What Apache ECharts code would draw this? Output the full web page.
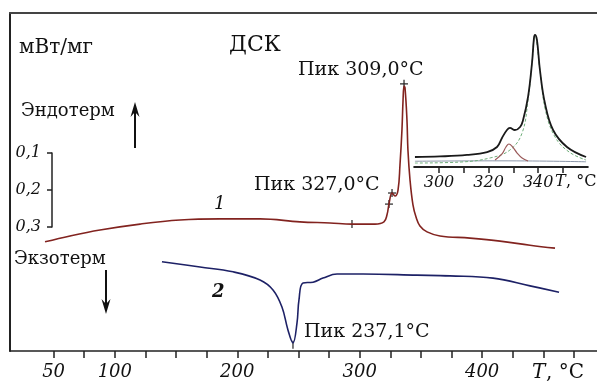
<!DOCTYPE html>
<html>
<head>
<meta charset="utf-8">
<script src="https://cdn.jsdelivr.net/npm/echarts@6/dist/echarts.min.js"></script>
<style>
  html, body { margin: 0; padding: 0; background: #fff; }
  #chart { width: 597px; height: 385px; }
</style>
</head>
<body>
<div id="chart"></div>
<script>
// curve 1 (heating, endotherm peaks) - temperature, mW/mg
const curve1T = [43.0, 63.4, 87.9, 120.6, 153.2, 185.9, 218.6, 251.2, 275.7, 293.7, 312.5, 319.8, 322.3, 323.9,
  326.4, 328.8, 331.3, 332.9, 334.5, 335.4, 336.2, 337.0, 338.6, 339.4, 341.1, 343.5, 346.0, 349.2, 355.0,
  365.6, 390.1, 414.6, 439.1, 459.5];
const curve1V = [0.295, 0.311, 0.327, 0.343, 0.354, 0.357, 0.357, 0.349, 0.346, 0.343, 0.343, 0.349, 0.368, 0.397,
  0.427, 0.419, 0.435, 0.503, 0.597, 0.678, 0.716, 0.711, 0.624, 0.543, 0.462, 0.395, 0.362, 0.338, 0.322,
  0.311, 0.305, 0.297, 0.286, 0.278];

// curve 2 (cooling, exotherm peak)
const curve2T = [138.5, 169.6, 196.5, 218.6, 229.2, 236.5, 241.4, 245.5, 248.8, 250.4, 253.7, 261.9, 270.0,
  281.5, 302.7, 346.8, 373.7, 408.9, 439.1, 462.8];
const curve2V = [0.241, 0.227, 0.214, 0.192, 0.165, 0.119, 0.057, 0.022, 0.076, 0.138, 0.184, 0.186, 0.197,
  0.208, 0.208, 0.205, 0.203, 0.197, 0.176, 0.159];

// tick marks put on the curves by the instrument software
const crossT = [323.9, 326.4, 336.2];
const crossV = [0.397, 0.427, 0.722];
const onsetT = [293.7, 245.5];
const onsetV = [0.343, 0.017];

// inset: deconvolution of the double peak
const insetT = [290.3, 300.4, 311.3, 319.4, 323.4, 325.4, 327.4, 328.6, 330.6, 332.7, 333.9, 335.9, 337.5,
  338.3, 338.7, 339.5, 340.7, 342.7, 346.0, 351.6, 359.3];
const insetTotal = [0.073, 0.077, 0.088, 0.109, 0.146, 0.212, 0.270, 0.285, 0.270, 0.292, 0.343, 0.511, 0.759,
  0.942, 0.964, 0.927, 0.708, 0.467, 0.270, 0.146, 0.073];
const smallPeakT = [322.6, 325.4, 327.0, 328.2, 329.4, 331.5, 333.5, 335.9];
const smallPeakV = [0.051, 0.095, 0.146, 0.168, 0.153, 0.102, 0.066, 0.044];
const bigPeakT = [290.3, 308.5, 320.6, 328.6, 333.5, 335.9, 337.5, 338.7, 340.7, 342.9, 346.8, 352.5, 359.3];
const bigPeakV = [0.029, 0.036, 0.066, 0.124, 0.248, 0.489, 0.759, 0.964, 0.708, 0.416, 0.219, 0.109, 0.051];
const baseT = [290.3, 325, 359.3];
const baseV = [0.042, 0.045, 0.038];

// axis ticks / labels
const mainTicks = [50, 75, 100, 125, 150, 175, 200, 225, 250, 275, 300, 325, 350, 375, 400, 425, 450, 475];
const mainLabels = [50, 100, 200, 300, 400];
const insetTicks = [300, 310, 320, 330, 340, 350];
const insetLabels = [300, 320, 340];

const zip = (a, b) => a.map((v, i) => [v, b[i]]);
const serif = '"DejaVu Serif", "Liberation Serif", serif';

const chart = echarts.init(document.getElementById('chart'));

function txt(text, x, y, size, extra) {
  return {
    type: 'text',
    style: Object.assign({
      text: text, x: x, y: y,
      font: size + 'px ' + serif,
      fill: '#111',
      textVerticalAlign: 'middle'
    }, extra || {})
  };
}

chart.setOption({
  animation: false,
  grid: [
    { left: 10, right: 0, top: 13, bottom: 34 },
    { left: 52, top: 153, height: 74, width: 1 },
    { left: 414.2, top: 30, width: 173.6, height: 137 }
  ],
  xAxis: [
    {
      gridIndex: 0, type: 'value', min: 14.4, max: 493.8,
      axisLine: { lineStyle: { color: '#222', width: 1.5 } },
      axisTick: { show: true, length: 7, customValues: mainTicks, lineStyle: { color: '#222', width: 1.5 } },
      axisLabel: {
        customValues: mainLabels, margin: 12,
        fontFamily: serif, fontStyle: 'italic', fontSize: 18, color: '#111'
      },
      splitLine: { show: false }
    },
    {
      gridIndex: 0, type: 'value', position: 'top', min: 14.4, max: 493.8,
      axisLine: { lineStyle: { color: '#444', width: 2 } },
      axisTick: { show: false }, axisLabel: { show: false }, splitLine: { show: false }
    },
    { gridIndex: 1, type: 'value', show: false },
    {
      gridIndex: 2, type: 'value', min: 290, max: 360,
      axisLine: { lineStyle: { color: '#222', width: 2 } },
      axisTick: { show: true, length: 6, customValues: insetTicks, lineStyle: { color: '#222', width: 1.5 } },
      axisLabel: {
        customValues: insetLabels, margin: 8,
        fontFamily: serif, fontStyle: 'italic', fontSize: 16, color: '#111'
      },
      splitLine: { show: false }
    }
  ],
  yAxis: [
    {
      gridIndex: 0, type: 'value', min: 0, max: 0.9135,
      axisLine: { show: true, lineStyle: { color: '#222', width: 2 } },
      axisTick: { show: false }, axisLabel: { show: false }, splitLine: { show: false }
    },
    {
      gridIndex: 1, type: 'value', min: 0.1, max: 0.3, interval: 0.1, inverse: true,
      axisLine: { show: true, lineStyle: { color: '#222', width: 1.5 } },
      axisTick: { show: true, length: 5, lineStyle: { color: '#222', width: 1.5 } },
      axisLabel: {
        margin: 11, fontFamily: serif, fontStyle: 'italic', fontSize: 16, color: '#111',
        formatter: (v) => v.toFixed(1).replace('.', ',')
      },
      splitLine: { show: false }
    },
    { gridIndex: 2, type: 'value', min: 0, max: 1, show: false }
  ],
  series: [
    {
      type: 'line', xAxisIndex: 0, yAxisIndex: 0, data: zip(curve1T, curve1V),
      showSymbol: false, smooth: 0.4,
      lineStyle: { color: '#82231f', width: 1.6 }
    },
    {
      type: 'line', xAxisIndex: 0, yAxisIndex: 0, data: zip(curve2T, curve2V),
      showSymbol: false, smooth: 0.4,
      lineStyle: { color: '#1d2166', width: 1.6 }
    },
    {
      type: 'scatter', xAxisIndex: 0, yAxisIndex: 0, data: zip(crossT, crossV),
      symbol: 'rect', symbolSize: [8, 1.5], itemStyle: { color: '#222' }
    },
    {
      type: 'scatter', xAxisIndex: 0, yAxisIndex: 0, data: zip(crossT, crossV).concat(zip(onsetT, onsetV)),
      symbol: 'rect', symbolSize: [1.5, 8], itemStyle: { color: '#222' }
    },
    {
      type: 'line', xAxisIndex: 3, yAxisIndex: 2, data: zip(baseT, baseV),
      showSymbol: false, smooth: true,
      lineStyle: { color: '#8a95a8', width: 1 }
    },
    {
      type: 'line', xAxisIndex: 3, yAxisIndex: 2, data: zip(bigPeakT, bigPeakV),
      showSymbol: false, smooth: 0.4,
      lineStyle: { color: '#6fae7a', width: 1, type: [3, 2] }
    },
    {
      type: 'line', xAxisIndex: 3, yAxisIndex: 2, data: zip(smallPeakT, smallPeakV),
      showSymbol: false, smooth: 0.4,
      lineStyle: { color: '#9a5a5a', width: 1.2 }
    },
    {
      type: 'line', xAxisIndex: 3, yAxisIndex: 2, data: zip(insetT, insetTotal),
      showSymbol: false, smooth: 0.4,
      lineStyle: { color: '#1a1a1a', width: 1.8 }
    }
  ],
  graphic: [
    txt('мВт/мг', 19, 48, 20),
    txt('ДСК', 229, 45, 22),
    txt('Эндотерм', 21, 111, 18),
    txt('Экзотерм', 14, 259, 18),
    txt('Пик 309,0°C', 298, 70, 19),
    txt('Пик 327,0°C', 254, 185, 19),
    txt('Пик 237,1°C', 304, 332, 19),
    txt('1', 214, 204, 18, { font: 'italic 18px ' + serif }),
    txt('2', 212, 292, 18, { font: 'italic bold 18px ' + serif }),
    txt('T', 532, 373, 20, { font: 'italic 20px ' + serif }),
    txt(', °C', 546, 373, 20),
    txt('T', 555, 182, 16, { font: 'italic 16px ' + serif }),
    txt(', °C', 566, 182, 16),
    // endotherm / exotherm arrows
    { type: 'line', shape: { x1: 135, y1: 148, x2: 135, y2: 106 }, style: { stroke: '#111', lineWidth: 2 } },
    { type: 'polygon', shape: { points: [[130.5, 117], [135, 102], [139.5, 117], [135, 112]] }, style: { fill: '#111' } },
    { type: 'line', shape: { x1: 106, y1: 270, x2: 106, y2: 308 }, style: { stroke: '#111', lineWidth: 2 } },
    { type: 'polygon', shape: { points: [[101.5, 299], [106, 314], [110.5, 299], [106, 304]] }, style: { fill: '#111' } }
  ]
});
</script>
</body>
</html>
